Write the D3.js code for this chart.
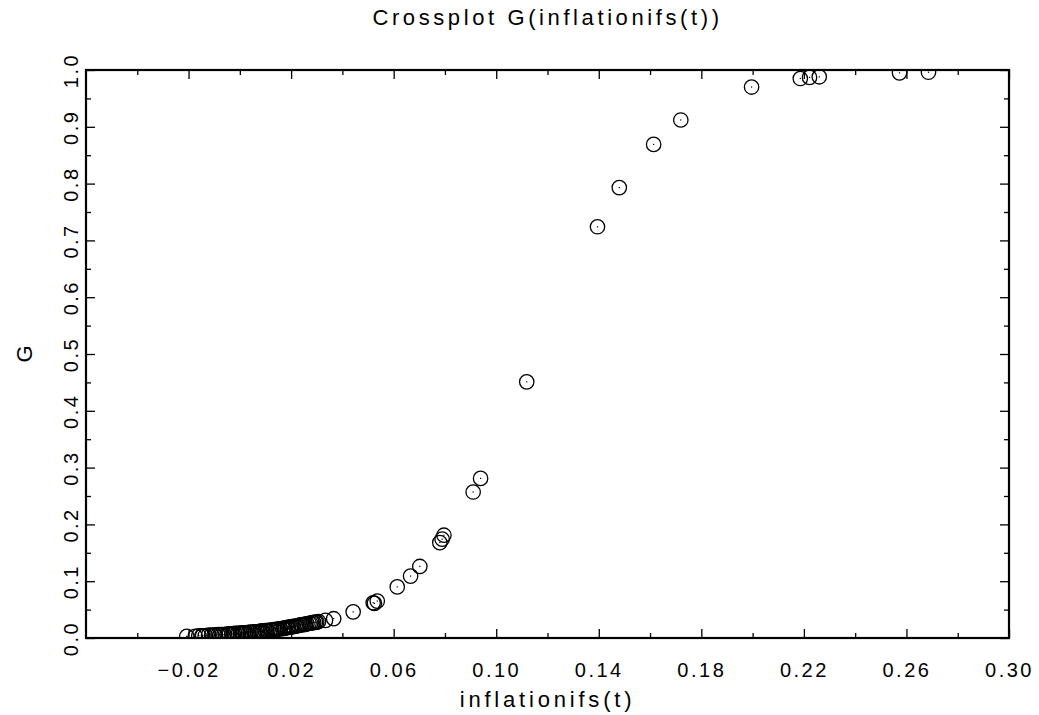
<!DOCTYPE html>
<html>
<head>
<meta charset="UTF-8">
<title>Crossplot G(inflationifs(t))</title>
<script src="https://cdn.jsdelivr.net/npm/d3@7"></script>
<style>
  body { margin: 0; background: #fff; }
  svg text { font-family: "Liberation Sans", Arial, sans-serif; fill: #000; }
</style>
</head>
<body>
<svg width="1039" height="715"></svg>
<script>
// data
var inflation = [
  -0.0207, -0.0174, -0.0160, -0.0148, -0.0135, -0.0122, -0.0110, -0.0096, -0.0085, -0.0077,
  -0.0062, -0.0050, -0.0040, -0.0031, -0.0020, -0.0011, 0.0002, 0.0014, 0.0024, 0.0034,
  0.0045, 0.0054, 0.0068, 0.0080, 0.0090, 0.0099, 0.0110, 0.0119, 0.0132, 0.0145,
  0.0158, 0.0168, 0.0177, 0.0190, 0.0197, 0.0208, 0.0216, 0.0228, 0.0236, 0.0250,
  0.0262, 0.0270, 0.0282, 0.0295, 0.0307, 0.0334, 0.0366, 0.0442, 0.0520, 0.0525,
  0.0536, 0.0614, 0.0666, 0.0702, 0.0780, 0.0789, 0.0796, 0.0910, 0.0939, 0.1119,
  0.1395, 0.1480, 0.1614, 0.1720, 0.1996, 0.2186, 0.2222, 0.2260, 0.2573, 0.2686,
  -0.0145, -0.0100, -0.0070, -0.0045, -0.0025, -0.0005, 0.0008, 0.0020, 0.0040, 0.0060,
  0.0075, 0.0085, 0.0105, 0.0125, 0.0140, 0.0150, 0.0172, 0.0185, 0.0202, 0.0222,
  0.0242, 0.0256, 0.0276, 0.0288, 0.0300
];
var G = [
  0.003, 0.003, 0.004, 0.004, 0.004, 0.005, 0.005, 0.005, 0.006, 0.006,
  0.006, 0.007, 0.007, 0.007, 0.008, 0.008, 0.008, 0.009, 0.009, 0.010,
  0.010, 0.011, 0.011, 0.012, 0.012, 0.013, 0.013, 0.014, 0.015, 0.015,
  0.016, 0.017, 0.018, 0.019, 0.019, 0.020, 0.021, 0.022, 0.023, 0.024,
  0.025, 0.026, 0.027, 0.028, 0.029, 0.031, 0.034, 0.046, 0.062, 0.061,
  0.065, 0.090, 0.109, 0.126, 0.168, 0.174, 0.181, 0.257, 0.281, 0.451,
  0.724, 0.793, 0.869, 0.912, 0.970, 0.985, 0.987, 0.988, 0.995, 0.996,
  0.004, 0.005, 0.006, 0.007, 0.007, 0.008, 0.009, 0.009, 0.010, 0.011,
  0.011, 0.012, 0.013, 0.014, 0.015, 0.016, 0.017, 0.018, 0.020, 0.021,
  0.023, 0.024, 0.026, 0.027, 0.028
];
var xTickValues = [-0.02, 0.02, 0.06, 0.10, 0.14, 0.18, 0.22, 0.26, 0.30];
var xTickLabels = ["\u22120.02", "0.02", "0.06", "0.10", "0.14", "0.18", "0.22", "0.26", "0.30"];
var xMinorTicks = [-0.04, 0.00, 0.04, 0.08, 0.12, 0.16, 0.20, 0.24, 0.28];
var yTickValues = [0.0, 0.1, 0.2, 0.3, 0.4, 0.5, 0.6, 0.7, 0.8, 0.9, 1.0];
var yTickLabels = ["0.0", "0.1", "0.2", "0.3", "0.4", "0.5", "0.6", "0.7", "0.8", "0.9", "1.0"];
var yMinorTicks = [0.05, 0.15, 0.25, 0.35, 0.45, 0.55, 0.65, 0.75, 0.85, 0.95];

var points = inflation.map(function(v, i) { return {x: v, g: G[i]}; });

var svg = d3.select("svg");
var plotL = 86, plotR = 1009, plotT = 70, plotB = 638;

var x = d3.scaleLinear().domain([-0.06, 0.30]).range([plotL, plotR]);
var y = d3.scaleLinear().domain([0, 1]).range([plotB, plotT]);

// clip to plot area
svg.append("defs").append("clipPath").attr("id", "plotclip")
  .append("rect").attr("x", plotL).attr("y", plotT)
  .attr("width", plotR - plotL).attr("height", plotB - plotT);

// ticks (inward on all four sides)
function ticksOnly(axis) {
  return function(g) {
    g.call(axis);
    g.select(".domain").remove();
    g.selectAll(".tick line").attr("stroke", "#000").attr("stroke-width", 1.3);
  };
}

// bottom
var bx = svg.append("g").attr("transform", "translate(0," + plotB + ")")
  .call(ticksOnly(d3.axisBottom(x).tickValues(xTickValues).tickSize(-9).tickPadding(25)
    .tickFormat(function(d, i) { return xTickLabels[i]; })));
bx.selectAll(".tick text").attr("font-size", 20).attr("letter-spacing", 2.5)
  .attr("font-family", "Liberation Sans, Arial, sans-serif");
svg.append("g").attr("transform", "translate(0," + plotB + ")")
  .call(ticksOnly(d3.axisBottom(x).tickValues(xMinorTicks).tickSize(-5).tickFormat("")));

// top
svg.append("g").attr("transform", "translate(0," + plotT + ")")
  .call(ticksOnly(d3.axisTop(x).tickValues(xTickValues).tickSize(-9).tickFormat("")));
svg.append("g").attr("transform", "translate(0," + plotT + ")")
  .call(ticksOnly(d3.axisTop(x).tickValues(xMinorTicks).tickSize(-5).tickFormat("")));

// left
var ly = svg.append("g").attr("transform", "translate(" + plotL + ",0)")
  .call(ticksOnly(d3.axisLeft(y).tickValues(yTickValues).tickSize(-9)
    .tickFormat(function(d, i) { return yTickLabels[i]; })));
ly.selectAll(".tick text")
  .attr("x", null).attr("dy", null)
  .attr("text-anchor", "middle")
  .attr("transform", "translate(-8,0) rotate(-90)")
  .attr("font-size", 20).attr("letter-spacing", 2.5)
  .attr("font-family", "Liberation Sans, Arial, sans-serif");
svg.append("g").attr("transform", "translate(" + plotL + ",0)")
  .call(ticksOnly(d3.axisLeft(y).tickValues(yMinorTicks).tickSize(-5).tickFormat("")));

// right
svg.append("g").attr("transform", "translate(" + plotR + ",0)")
  .call(ticksOnly(d3.axisRight(y).tickValues(yTickValues).tickSize(-9).tickFormat("")));
svg.append("g").attr("transform", "translate(" + plotR + ",0)")
  .call(ticksOnly(d3.axisRight(y).tickValues(yMinorTicks).tickSize(-5).tickFormat("")));

// frame
svg.append("rect")
  .attr("x", plotL).attr("y", plotT)
  .attr("width", plotR - plotL).attr("height", plotB - plotT)
  .attr("fill", "none").attr("stroke", "#000").attr("stroke-width", 2.2);

// points
var pg = svg.append("g").attr("clip-path", "url(#plotclip)");
pg.selectAll("circle.pt")
  .data(points)
  .enter()
  .append("circle")
  .attr("class", "pt")
  .attr("cx", function(d) { return x(d.x); })
  .attr("cy", function(d) { return y(d.g); })
  .attr("r", 7.2)
  .attr("fill", "none")
  .attr("stroke", "#000")
  .attr("stroke-width", 1.3);
pg.selectAll("rect.dot")
  .data(points)
  .enter()
  .append("rect")
  .attr("class", "dot")
  .attr("x", function(d) { return x(d.x) - 0.6; })
  .attr("y", function(d) { return y(d.g) - 0.6; })
  .attr("width", 1.2).attr("height", 1.2)
  .attr("fill", "#000");

// titles
svg.append("text")
  .attr("x", (plotL + plotR) / 2).attr("y", 25)
  .attr("text-anchor", "middle")
  .attr("font-size", 22).attr("letter-spacing", 3.6)
  .text("Crossplot G(inflationifs(t))");

svg.append("text")
  .attr("x", (plotL + plotR) / 2).attr("y", 707)
  .attr("text-anchor", "middle")
  .attr("font-size", 22).attr("letter-spacing", 3.8)
  .text("inflationifs(t)");

svg.append("text")
  .attr("transform", "translate(32," + ((plotT + plotB) / 2) + ") rotate(-90)")
  .attr("text-anchor", "middle")
  .attr("font-size", 22)
  .text("G");
</script>
</body>
</html>
